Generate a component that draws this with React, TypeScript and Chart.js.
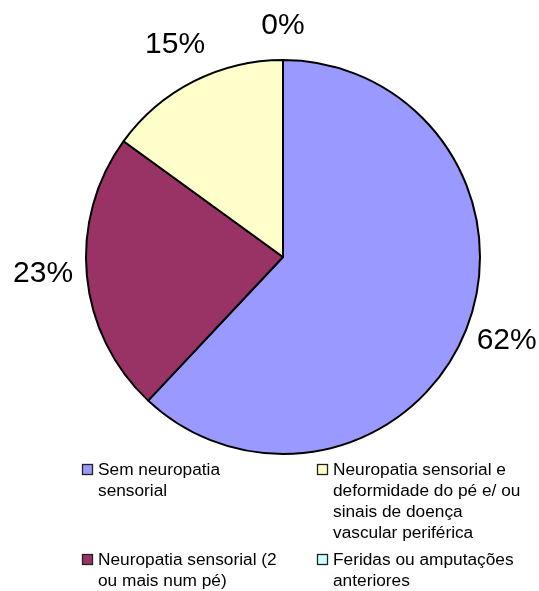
import React, { useEffect, useRef } from "react";
import { Chart, registerables } from "chart.js";

Chart.register(...registerables);

const categories: string[][] = [
  ["Sem neuropatia", "sensorial"],
  ["Neuropatia sensorial (2", "ou mais num pé)"],
  ["Neuropatia sensorial e", "deformidade do pé e/ ou", "sinais de doença", "vascular periférica"],
  ["Feridas ou amputações", "anteriores"],
];
const values: number[] = [62, 23, 15, 0];
const valueLabels: string[] = ["62%", "23%", "15%", "0%"];
const colors: string[] = ["#9999FF", "#993366", "#FFFFCC", "#CCFFFF"];

const FONT = "Arial, 'Liberation Sans', sans-serif";

const overlayPlugin = {
  id: "overlay",
  afterDraw(chart: any) {
    const ctx = chart.ctx as CanvasRenderingContext2D;
    const meta = chart.getDatasetMeta(0);
    ctx.save();
    // value labels outside the pie
    ctx.font = `30px ${FONT}`;
    ctx.fillStyle = "#000";
    ctx.textAlign = "center";
    ctx.textBaseline = "middle";
    meta.data.forEach((arc: any, i: number) => {
      const p = arc.getProps(["x", "y", "startAngle", "endAngle", "outerRadius"], true);
      const mid = (p.startAngle + p.endAngle) / 2;
      const dx = Math.cos(mid);
      const dy = Math.sin(mid);
      const d = p.outerRadius + 38 + 6 * Math.abs(dx);
      ctx.fillText(valueLabels[i], p.x + dx * d, p.y + dy * d - 6 * Math.abs(dx) + 4 * (1 - Math.abs(dx)));
    });
    // legend: two columns, column-major order
    ctx.font = `17.3px ${FONT}`;
    ctx.textAlign = "left";
    ctx.textBaseline = "alphabetic";
    const colX = [82, 317];
    const lineH = 21;
    const rows = 2;
    const rowLines: number[] = [];
    categories.forEach((c, i) => {
      const r = i % rows;
      rowLines[r] = Math.max(rowLines[r] || 0, c.length);
    });
    const rowBase: number[] = [475];
    for (let r = 1; r < rows; r++) rowBase[r] = rowBase[r - 1] + rowLines[r - 1] * lineH + 6;
    categories.forEach((lines, i) => {
      const col = Math.floor(i / rows);
      const r = i % rows;
      const x = colX[col];
      const base = rowBase[r];
      ctx.fillStyle = colors[i];
      ctx.fillRect(x + 0.5, base - 10.5, 10, 10);
      ctx.strokeStyle = "#222";
      ctx.lineWidth = 1.3;
      ctx.strokeRect(x + 0.5, base - 10.5, 10, 10);
      ctx.fillStyle = "#000";
      lines.forEach((t, k) => ctx.fillText(t, x + 16, base + k * lineH));
    });
    ctx.restore();
  },
};

export default function App() {
  const ref = useRef<HTMLCanvasElement | null>(null);
  useEffect(() => {
    if (!ref.current) return;
    const chart = new Chart(ref.current, {
      type: "pie",
      data: {
        labels: categories,
        datasets: [
          {
            data: values,
            backgroundColor: colors,
            borderColor: "#000",
            borderWidth: 2,
          },
        ],
      },
      options: {
        animation: false,
        responsive: false,
        layout: { padding: { left: 85, top: 59, right: 58, bottom: 136 } },
        plugins: {
          legend: { display: false },
          tooltip: { enabled: false },
        },
      },
      plugins: [overlayPlugin],
    });
    return () => chart.destroy();
  }, []);
  return (
    <div style={{ position: "absolute", left: 0, top: 0, width: 539, height: 591, background: "#fff" }}>
      <canvas ref={ref} width={539} height={591} style={{ width: 539, height: 591 }} />
    </div>
  );
}
